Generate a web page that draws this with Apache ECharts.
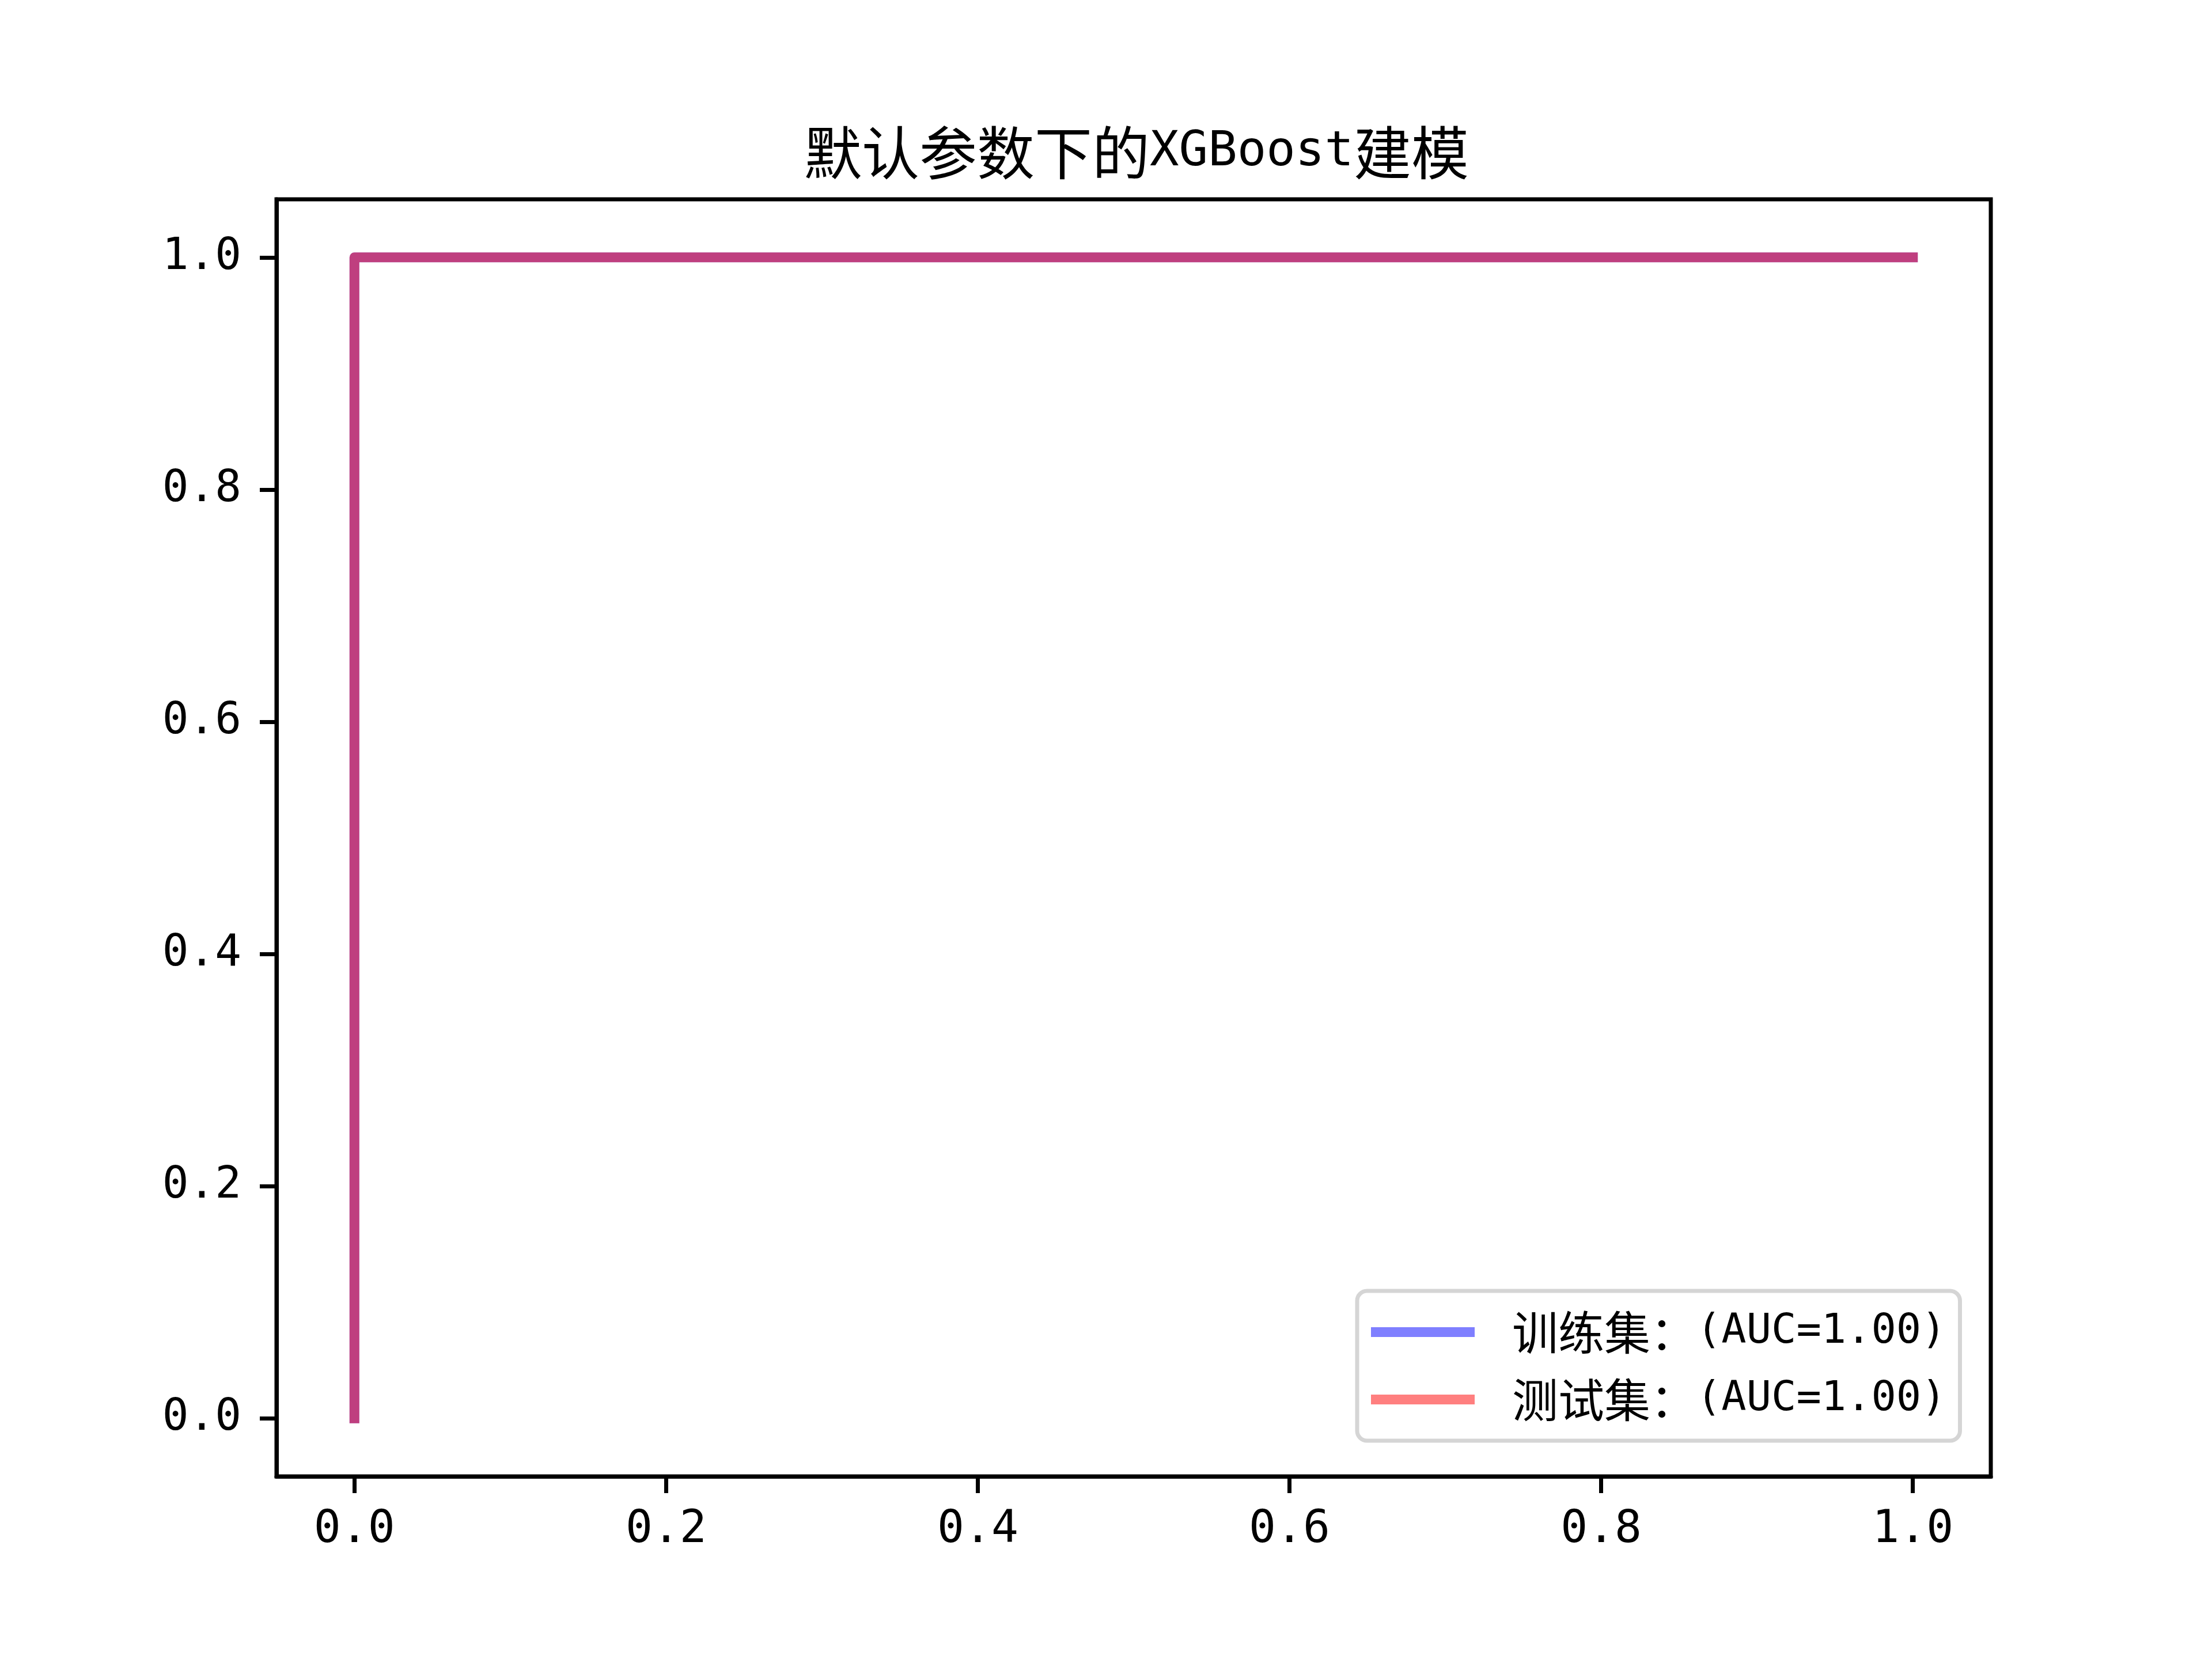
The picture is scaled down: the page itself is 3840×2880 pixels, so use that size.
<!DOCTYPE html>
<html>
<head>
<meta charset="utf-8">
<script src="https://cdn.jsdelivr.net/npm/echarts@6/dist/echarts.min.js"></script>
<style>html,body{margin:0;padding:0;background:#fff}#c{width:3840px;height:2880px}</style>
</head>
<body>
<div id="c"></div>
<script>
const titleCjk1 = '默认参数下的';
const titleLatin = 'XGBoost';
const titleCjk2 = '建模';
const trainName = '训练集：(AUC=1.00)';
const testName = '测试集：(AUC=1.00)';
const trainFpr = [0, 0, 1];
const trainTpr = [0, 1, 1];
const testFpr = [0, 0, 1];
const testTpr = [0, 1, 1];
const tickValues = [0, 0.2, 0.4, 0.6, 0.8, 1.0];

const MONO = "'DejaVu Sans Mono'";
const CJK = "'Noto Sans CJK SC'";
const chart = echarts.init(document.getElementById('c'), null, {renderer: 'canvas'});
const toPairs = (xs, ys) => xs.map((x, i) => [x, ys[i]]);
const axisCommon = {
  type: 'value', min: -0.05, max: 1.05,
  splitLine: {show: false},
  axisLine: {show: true, onZero: false, lineStyle: {color: '#000', width: 7}},
  axisTick: {show: true, inside: false, length: 29, customValues: tickValues, lineStyle: {color: '#000', width: 7}},
};
const legendFmt = name => '{c|' + name.slice(0, 4) + '}{l|' + name.slice(4) + '}';
chart.setOption({
  animation: false,
  backgroundColor: '#fff',
  title: {
    text: '{c|' + titleCjk1 + '}{l|' + titleLatin + '}{c|' + titleCjk2 + '}',
    left: 1968, top: 210, textAlign: 'center',
    textStyle: {
      fontFamily: CJK, fontSize: 100, lineHeight: 100, fontWeight: 'normal', color: '#000',
      rich: {
        c: {fontFamily: CJK, fontSize: 100, lineHeight: 100, color: '#000'},
        l: {fontFamily: MONO, fontSize: 84, lineHeight: 100, color: '#000'}
      }
    }
  },
  grid: {left: 480, right: 384, top: 346, bottom: 317, show: true, borderColor: '#000', borderWidth: 7, backgroundColor: 'transparent'},
  xAxis: Object.assign({}, axisCommon, {
    position: 'bottom',
    axisLabel: {customValues: tickValues, margin: 55, fontFamily: MONO, fontSize: 78, lineHeight: 78, color: '#000', formatter: v => v.toFixed(1)}
  }),
  yAxis: Object.assign({}, axisCommon, {
    position: 'left',
    axisLabel: {customValues: tickValues, margin: 61, fontFamily: MONO, fontSize: 76, lineHeight: 78, color: '#000', formatter: v => v.toFixed(1)}
  }),
  legend: {
    orient: 'vertical', left: 2356, top: 2241,
    padding: [30, 24, 30, 24],
    itemWidth: 180, itemHeight: 17, itemGap: 34,
    borderColor: '#d5d5d5', borderWidth: 7, borderRadius: 17,
    backgroundColor: 'rgba(255,255,255,0.8)',
    formatter: legendFmt,
    textStyle: {
      fontFamily: CJK, fontSize: 80, lineHeight: 83, color: '#000', padding: [0, 0, 0, 60],
      rich: {
        c: {fontFamily: CJK, fontSize: 80, lineHeight: 83, color: '#000'},
        l: {fontFamily: MONO, fontSize: 72, lineHeight: 83, color: '#000'}
      }
    },
    data: [
      {name: trainName, icon: 'rect'},
      {name: testName, icon: 'rect'}
    ]
  },
  series: [
    {
      name: trainName, type: 'line', data: toPairs(trainFpr, trainTpr),
      showSymbol: false, color: 'rgba(0,0,255,0.5)',
      lineStyle: {width: 17, color: 'rgba(0,0,255,0.5)', cap: 'square', join: 'round'}
    },
    {
      name: testName, type: 'line', data: toPairs(testFpr, testTpr),
      showSymbol: false, color: 'rgba(255,0,0,0.5)',
      lineStyle: {width: 17, color: 'rgba(255,0,0,0.5)', cap: 'square', join: 'round'}
    }
  ]
});
</script>
</body>
</html>
